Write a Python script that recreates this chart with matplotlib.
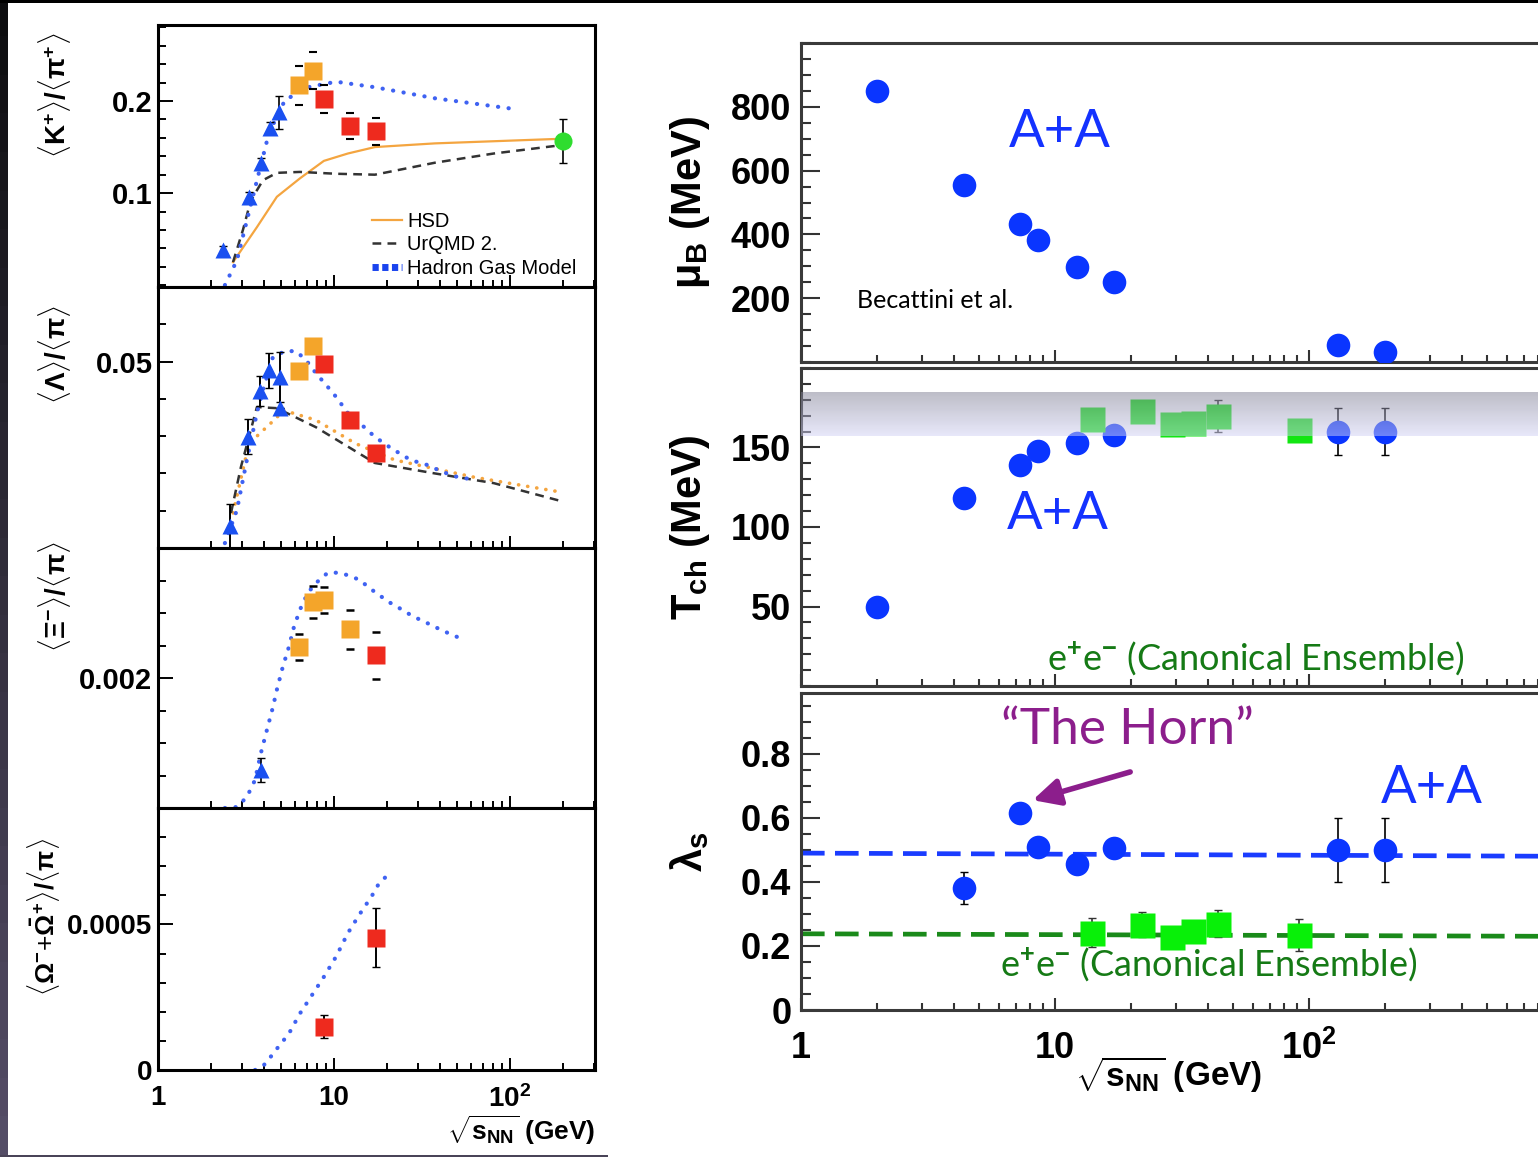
import numpy as np
import matplotlib
matplotlib.use('Agg')
import matplotlib.pyplot as plt
from matplotlib.lines import Line2D
from matplotlib.patches import Rectangle
from matplotlib.ticker import LogLocator, FixedLocator, NullFormatter, MultipleLocator, FixedFormatter

plt.rcParams['font.family'] = ['Liberation Sans', 'DejaVu Sans']
plt.rcParams['font.weight'] = 'bold'
plt.rcParams['axes.labelweight'] = 'bold'
plt.rcParams['mathtext.fontset'] = 'custom'
plt.rcParams['mathtext.rm'] = 'Liberation Sans'
plt.rcParams['mathtext.bf'] = 'Liberation Sans:bold'
plt.rcParams['mathtext.it'] = 'Liberation Sans:italic'
plt.rcParams['mathtext.sf'] = 'Liberation Sans'

# ------------------------------------------------------------------ data
# left panel 1 : <K+>/<pi+>
k_tri_E = [2.34, 3.29, 3.85, 4.33, 4.87]
k_tri_v = [0.038, 0.096, 0.133, 0.171, 0.188]
k_tri_err = [0.004, 0.005, 0.005, 0.006, 0.018]
k_org_E = [6.3, 7.6]
k_org_v = [0.217, 0.233]
k_org_err = [0.021, 0.020]
k_red_E = [8.8, 12.3, 17.3]
k_red_v = [0.202, 0.173, 0.167]
k_red_err = [0.015, 0.014, 0.015]
k_grn_E = [200.0]
k_grn_v = [0.157]
k_grn_err = [0.024]
k_hsd_E = [2.67, 3.65, 4.74, 6.41, 8.77, 12.0, 17.1, 37.5, 195]
k_hsd_v = [0.025, 0.063, 0.096, 0.116, 0.135, 0.143, 0.150, 0.154, 0.159]
k_urq_E = [2.67, 3.04, 3.37, 3.95, 4.74, 6.41, 10.3, 17.1, 37.5, 81, 195]
k_urq_v = [0.025, 0.060, 0.092, 0.114, 0.122, 0.123, 0.121, 0.120, 0.133, 0.143, 0.152]
k_hgm_E = [2.40, 2.81, 3.46, 4.27, 5.27, 7.11, 10.3, 17.1, 37.5, 100]
k_hgm_v = [0.0, 0.027, 0.096, 0.165, 0.201, 0.215, 0.221, 0.215, 0.203, 0.192]

# left panel 2 : <Lambda>/<pi>
l_tri_E = [2.57, 3.25, 3.80, 4.27, 4.95, 4.95]
l_tri_v = [0.0059, 0.0298, 0.0421, 0.0477, 0.0459, 0.0375]
l_tri_err = [0.006, 0.0047, 0.004, 0.0047, 0.0067, 0.0]
l_org_E = [6.3, 7.6]
l_org_v = [0.0475, 0.0542]
l_org_err = [0.0008, 0.0012]
l_red_E = [8.8, 12.3, 17.3]
l_red_v = [0.0493, 0.0343, 0.0255]
l_red_err = [0.0008, 0.0008, 0.0008]
l_hgm_E = [2.40, 2.81, 3.20, 3.65, 3.95, 4.50, 5.27, 6.09, 6.94, 7.90, 9.23, 10.3,
           12.0, 14.8, 17.1, 21.1, 27.3, 33.8, 41.5, 50.7, 59.4]
l_hgm_v = [0.0013, 0.0102, 0.0236, 0.0362, 0.0424, 0.0512, 0.0528, 0.0528, 0.0504, 0.0469,
           0.0432, 0.0405, 0.0362, 0.0325, 0.0298, 0.0268, 0.0236, 0.0223, 0.0204, 0.0190, 0.0185]
l_hsd_E = [2.67, 3.29, 4.74, 5.12, 7.90, 13.3, 22.2, 62.5, 195]
l_hsd_v = [0.0094, 0.028, 0.035, 0.037, 0.0343, 0.028, 0.0236, 0.019, 0.015]
l_urq_E = [2.60, 2.96, 3.65, 4.74, 7.90, 17.1, 37.5, 81, 195]
l_urq_v = [0.0094, 0.0217, 0.0378, 0.0375, 0.0324, 0.0228, 0.020, 0.0174, 0.0126]

# left panel 3 : <Xi->/<pi>
x_tri_E = [3.85]
x_tri_v = [0.000585]
x_tri_err = [0.00018]
x_org_E = [6.3, 7.6, 8.8, 12.3]
x_org_v = [0.00248, 0.00317, 0.00320, 0.00275]
x_org_err = [0.0002, 0.00025, 0.0002, 0.0003]
x_red_E = [17.3]
x_red_v = [0.00235]
x_red_err = [0.00036]
x_hgm_E = [2.40, 2.81, 3.20, 3.56, 3.85, 4.16, 4.50, 4.74, 5.12, 5.55, 5.92, 6.41, 7.11, 7.90,
           9.23, 10.8, 12.0, 14.0, 16.0, 18.0, 20.5, 23.4, 27.3, 31.2, 35.5, 40.6, 47.4, 53.5]
x_hgm_v = [0.0, 0.000015, 0.000169, 0.00043, 0.00085, 0.0012, 0.00155, 0.00182, 0.00217,
           0.00248, 0.00278, 0.00305, 0.00331, 0.00346, 0.00362, 0.00362, 0.00358, 0.00351,
           0.00338, 0.00328, 0.00317, 0.00308, 0.00297, 0.00289, 0.00282, 0.00274, 0.00266, 0.0026]

# left panel 4 : <Omega- + anti-Omega+>/<pi>
o_red_E = [8.8, 17.3]
o_red_v = [0.000149, 0.000455]
o_red_err = [0.00004, 0.0001]
o_hgm_E = [3.56, 4.06, 4.74, 5.55, 6.41, 7.50, 8.77, 10.3, 12.0, 14.0, 16.4, 18.0, 20.0]
o_hgm_v = [0.0, 0.00002, 0.000073, 0.000125, 0.000194, 0.000257, 0.00032, 0.00039, 0.00047,
           0.000535, 0.000597, 0.00064, 0.000667]

# right panels (Becattini et al.)
aa_E = [2.0, 4.4, 7.3, 8.6, 12.2, 17.1, 130, 200]
aa_muB = [849, 555, 433, 382, 298, 251, 53, 31]
aa_T = [50, 118, 139, 148, 153, 158, 160, 160]
aa_T_err = [0, 0, 0, 0, 0, 0, 15, 15]
aa_lam_E = [4.4, 7.3, 8.6, 12.2, 17.1, 130, 200]
aa_lam = [0.381, 0.615, 0.51, 0.456, 0.507, 0.50, 0.50]
aa_lam_err = [0.05, 0.012, 0, 0, 0, 0.1, 0.1]
ee_E = [14, 22, 29, 35, 44, 91.2]
ee_T = [168, 173, 164.5, 165.7, 170, 161]
ee_T_err = [0, 0, 0, 0, 10, 0]
ee_lam = [0.242, 0.267, 0.228, 0.247, 0.270, 0.233]
ee_lam_err = [0.045, 0.04, 0, 0, 0.043, 0.05]
aa_line_E = [1, 1000]
aa_line_v = [0.49, 0.48]
ee_line_v = [0.238, 0.230]
band_T = [157, 185]

# ------------------------------------------------------------------ figure
W, H = 1538, 1157
fig = plt.figure(figsize=(W / 100, H / 100), dpi=100)
fig.patch.set_facecolor('white')


def add_px(l, t, r, b):
    return fig.add_axes([l / W, 1 - b / H, (r - l) / W, (b - t) / H])


# dark frame strips of the original slide
nseg = 30
c_top = np.array([0.05, 0.05, 0.06])
c_bot = np.array([0.33, 0.30, 0.40])
for i in range(nseg):
    f = i / (nseg - 1)
    col = c_top * (1 - f) + c_bot * f
    fig.patches.append(Rectangle((0, 1 - (i + 1) / nseg), 8 / W, 1 / nseg + 0.002,
                                 transform=fig.transFigure, color=col, lw=0, zorder=-5))
fig.patches.append(Rectangle((0, 1 - 3 / H), 1, 3 / H, transform=fig.transFigure,
                             color='black', lw=0, zorder=-5))
fig.patches.append(Rectangle((0, 0), 608 / W, 2.5 / H, transform=fig.transFigure,
                             color='#4a4458', lw=0, zorder=-5))

tri_blue = '#1a50f0'
hgm_blue = '#3f62f2'
orange = '#f4a52a'
red = '#ee2a1e'
grn = '#2fdd2f'
hsd_or = '#f4a540'


def style_left(ax, ylim, major, labels, minor_step, show_x=False):
    ax.set_xscale('log')
    ax.set_xlim(1, 305)
    ax.set_ylim(*ylim)
    ax.xaxis.set_major_locator(FixedLocator([1, 10, 100]))
    ax.xaxis.set_minor_locator(LogLocator(base=10, subs=np.arange(2, 10)))
    ax.xaxis.set_minor_formatter(NullFormatter())
    if show_x:
        ax.xaxis.set_major_formatter(FixedFormatter(['1', '10', r'$\mathbf{10^{2}}$']))
    else:
        ax.xaxis.set_major_formatter(NullFormatter())
    ax.yaxis.set_major_locator(FixedLocator(major))
    ax.yaxis.set_major_formatter(FixedFormatter(labels))
    ax.yaxis.set_minor_locator(MultipleLocator(minor_step))
    ax.tick_params(axis='both', which='both', direction='in', top=False, right=False)
    ax.tick_params(axis='y', which='major', length=11, width=1.4, labelsize=21, pad=4)
    ax.tick_params(axis='y', which='minor', length=6, width=1.4)
    ax.tick_params(axis='x', which='major', length=9, width=1.4, labelsize=20, pad=11)
    ax.tick_params(axis='x', which='minor', length=5, width=1.4)
    for sp in ax.spines.values():
        sp.set_linewidth(2.2)
        sp.set_color('black')


dotted = (0, (0.05, 2.5))
dashed = (0, (3.5, 2.5))

# ---- left panel 1
ax1 = add_px(158, 25, 595, 287)
style_left(ax1, (-0.002, 0.2826), [0.1, 0.2], ['0.1', '0.2'], 0.02)
h_hsd, = ax1.plot(k_hsd_E, k_hsd_v, '-', color=hsd_or, lw=1.6, zorder=2)
h_urq, = ax1.plot(k_urq_E, k_urq_v, linestyle=dashed, color='#333333', lw=1.8, zorder=2)
ax1.plot(k_hgm_E, k_hgm_v, linestyle=dotted, color=hgm_blue, lw=3.0,
         dash_capstyle='round', zorder=2)
ax1.errorbar(k_tri_E, k_tri_v, yerr=k_tri_err, fmt='none', ecolor='black', elinewidth=1.2, capsize=3, zorder=3)
ax1.errorbar(k_org_E, k_org_v, yerr=k_org_err, fmt='none', ecolor='black', elinewidth=0, capsize=3, capthick=1.5, zorder=3)
ax1.errorbar(k_red_E, k_red_v, yerr=k_red_err, fmt='none', ecolor='black', elinewidth=0, capsize=3, capthick=1.5, zorder=3)
ax1.errorbar(k_grn_E, k_grn_v, yerr=k_grn_err, fmt='none', ecolor='black', elinewidth=1.2, capsize=3, zorder=3)
ax1.plot(k_tri_E, k_tri_v, '^', color=tri_blue, ms=12, mec='none', zorder=4)
ax1.plot(k_org_E, k_org_v, 's', color=orange, ms=13, mec='none', zorder=4)
ax1.plot(k_red_E, k_red_v, 's', color=red, ms=12.5, mec='none', zorder=4)
ax1.plot(k_grn_E, k_grn_v, 'o', color=grn, ms=13, mec='none', zorder=4)
h_hgm = Line2D([], [], color='#1a44ee', lw=5, linestyle=(0, (0.9, 0.5)))
ax1.legend([h_hsd, h_urq, h_hgm], ['HSD', 'UrQMD 2.', 'Hadron Gas Model'],
           loc='lower left', bbox_to_anchor=(0.49, 0.035), frameon=False,
           prop={'size': 14.5, 'weight': 'normal'}, handlelength=1.5, handletextpad=0.25,
           labelspacing=0.22, borderpad=0, borderaxespad=0)
ax1.set_ylabel(r'$\langle\mathbf{K}^{+}\rangle/\langle\mathrm{\pi}^{+}\rangle$', fontsize=20,
               fontweight='normal', va='center')
ax1.yaxis.set_label_coords(-0.236, 0.733)

# ---- left panel 2
ax2 = add_px(158, 287, 595, 548)
style_left(ax2, (0, 0.07), [0.05], ['0.05'], 0.01)
ax2.plot(l_hsd_E, l_hsd_v, linestyle=dotted, color=hsd_or, lw=2.6, dash_capstyle='round', zorder=2)
ax2.plot(l_urq_E, l_urq_v, linestyle=dashed, color='#333333', lw=1.8, zorder=2)
ax2.plot(l_hgm_E, l_hgm_v, linestyle=dotted, color=hgm_blue, lw=3.0, dash_capstyle='round', zorder=2)
ax2.errorbar(l_tri_E, l_tri_v, yerr=l_tri_err, fmt='none', ecolor='black', elinewidth=1.4, capsize=3, zorder=3)
ax2.errorbar(l_org_E, l_org_v, yerr=l_org_err, fmt='none', ecolor='black', elinewidth=1.2, capsize=3, zorder=3)
ax2.errorbar(l_red_E, l_red_v, yerr=l_red_err, fmt='none', ecolor='black', elinewidth=1.2, capsize=3, zorder=3)
ax2.plot(l_tri_E, l_tri_v, '^', color=tri_blue, ms=12, mec='none', zorder=4)
ax2.plot(l_org_E, l_org_v, 's', color=orange, ms=13, mec='none', zorder=4)
ax2.plot(l_red_E, l_red_v, 's', color=red, ms=12.5, mec='none', zorder=4)
ax2.set_ylabel(r'$\langle\Lambda\rangle/\langle\mathrm{\pi}\rangle$', fontsize=20, fontweight='normal', va='center')
ax2.yaxis.set_label_coords(-0.236, 0.74)

# ---- left panel 3
ax3 = add_px(158, 548, 595, 808)
style_left(ax3, (0, 0.004), [0.002], ['0.002'], 0.0005)
ax3.plot(x_hgm_E, x_hgm_v, linestyle=dotted, color=hgm_blue, lw=3.0, dash_capstyle='round', zorder=2)
ax3.errorbar(x_tri_E, x_tri_v, yerr=x_tri_err, fmt='none', ecolor='black', elinewidth=1.2, capsize=3, zorder=3)
ax3.errorbar(x_org_E, x_org_v, yerr=x_org_err, fmt='none', ecolor='black', elinewidth=0, capsize=3, capthick=1.8, zorder=3)
ax3.errorbar(x_red_E, x_red_v, yerr=x_red_err, fmt='none', ecolor='black', elinewidth=0, capsize=3, capthick=1.8, zorder=3)
ax3.plot(x_tri_E, x_tri_v, '^', color=tri_blue, ms=12, mec='none', zorder=4)
ax3.plot(x_org_E, x_org_v, 's', color=orange, ms=13, mec='none', zorder=4)
ax3.plot(x_red_E, x_red_v, 's', color=red, ms=12.5, mec='none', zorder=4)
ax3.set_ylabel(r'$\langle\Xi^{-}\rangle/\langle\mathrm{\pi}\rangle$', fontsize=20, fontweight='normal', va='center')
ax3.yaxis.set_label_coords(-0.236, 0.815)

# ---- left panel 4
ax4 = add_px(158, 808, 595, 1070)
style_left(ax4, (0, 0.0009), [0.0, 0.0005], ['0', '0.0005'], 0.0001, show_x=True)
ax4.tick_params(axis='y', which='major', labelsize=20)
ax4.plot(o_hgm_E, o_hgm_v, linestyle=dotted, color=hgm_blue, lw=3.0, dash_capstyle='round', zorder=2)
ax4.errorbar(o_red_E, o_red_v, yerr=o_red_err, fmt='none', ecolor='black', elinewidth=1.4, capsize=3, zorder=3)
ax4.plot(o_red_E, o_red_v, 's', color=red, ms=12.5, mec='none', zorder=4)
ax4.set_ylabel(r'$\langle\Omega^{-}$+$\bar{\Omega}^{+}\rangle/\langle\mathrm{\pi}\rangle$', fontsize=19,
               fontweight='normal', va='center')
ax4.yaxis.set_label_coords(-0.262, 0.584)
ax4.set_xlabel(r'$\sqrt{\mathbf{s}_{\mathbf{NN}}}$ (GeV)', fontsize=19, fontweight='bold',
               ha='right', va='center')
ax4.xaxis.set_label_coords(1.0, -0.229)

# ------------------------------------------------------------------ right panels
aa_blue = '#0a35ff'
ee_green = '#12e612'
txt_green = '#157a15'
line_green = '#1a8a1a'
purple = '#8c1e8c'


def style_right(ax, ylim, major, labels, minor_step, show_x=False):
    ax.set_xscale('log')
    ax.set_xlim(1, 1000)
    ax.set_ylim(*ylim)
    ax.xaxis.set_major_locator(FixedLocator([1, 10, 100, 1000]))
    ax.xaxis.set_minor_locator(LogLocator(base=10, subs=np.arange(2, 10)))
    ax.xaxis.set_minor_formatter(NullFormatter())
    if show_x:
        ax.xaxis.set_major_formatter(FixedFormatter(['1', '10', r'$\mathbf{10^{2}}$', '']))
    else:
        ax.xaxis.set_major_formatter(NullFormatter())
    ax.yaxis.set_major_locator(FixedLocator(major))
    ax.yaxis.set_major_formatter(FixedFormatter(labels))
    ax.yaxis.set_minor_locator(MultipleLocator(minor_step))
    ax.tick_params(axis='both', which='both', direction='in', top=False, right=False, color='#333333')
    ax.tick_params(axis='y', which='major', length=14, width=1.5, labelsize=26, pad=7)
    ax.tick_params(axis='y', which='minor', length=7, width=1.5)
    ax.tick_params(axis='x', which='major', length=9, width=1.5, labelsize=26, pad=15)
    ax.tick_params(axis='x', which='minor', length=5, width=1.5)
    for sp in ax.spines.values():
        sp.set_linewidth(2.2)
        sp.set_color('#3a3a3a')


R = 801 + 3 * 254
# ---- mu_B
r1 = add_px(801, 43, R, 362)
style_right(r1, (0, 1000), [200, 400, 600, 800], ['200', '400', '600', '800'], 50)
r1.plot(aa_E, aa_muB, 'o', color=aa_blue, ms=17, mec='none', zorder=4)
r1.set_ylabel(r'$\mathrm{\mu}_{\mathbf{B}}$ (MeV)', fontsize=30, fontweight='bold', va='center')
r1.yaxis.set_label_coords(-0.1457, 0.5)
r1.text(0.34, 0.718, 'A+A', transform=r1.transAxes, fontsize=38, color='#1432ff',
        family=['Lato', 'DejaVu Sans'], fontweight='normal', ha='center', va='center')
r1.text(0.0735, 0.194, 'Becattini et al.', transform=r1.transAxes, fontsize=18, color='black',
        family=['Lato', 'DejaVu Sans'], fontweight='normal', ha='left', va='center')

# ---- T_ch
r2 = add_px(801, 368, R, 686)
style_right(r2, (0, 200), [50, 100, 150], ['50', '100', '150'], 10)
r2.errorbar(aa_E, aa_T, yerr=aa_T_err, fmt='none', ecolor='black', elinewidth=1.2, capsize=3, zorder=3)
r2.errorbar(ee_E, ee_T, yerr=ee_T_err, fmt='none', ecolor='#333333', elinewidth=1.2, capsize=3, zorder=3)
r2.plot(aa_E, aa_T, 'o', color=aa_blue, ms=17, mec='none', zorder=4)
r2.plot(ee_E, ee_T, 's', color=ee_green, ms=18, mec='none', zorder=4)
nb = 40
cb_top = np.array([125, 125, 145]) / 255
cb_bot = np.array([209, 209, 245]) / 255
for i in range(nb):
    f = i / (nb - 1)
    y0 = band_T[0] + (band_T[1] - band_T[0]) * i / nb
    y1 = band_T[0] + (band_T[1] - band_T[0]) * (i + 1) / nb
    r2.axhspan(y0, y1, color=cb_bot * (1 - f) + cb_top * f, alpha=0.5, lw=0,
               antialiased=False, zorder=5)
r2.set_ylabel(r'$\mathbf{T}_{\mathbf{ch}}$ (MeV)', fontsize=30, fontweight='bold', va='center')
r2.yaxis.set_label_coords(-0.1457, 0.5)
r2.text(0.337, 0.538, 'A+A', transform=r2.transAxes, fontsize=38, color='#1432ff',
        family=['Lato', 'DejaVu Sans'], fontweight='normal', ha='center', va='center')
r2.text(0.596, 0.085, r'e$^{+}$e$^{-}$ (Canonical Ensemble)', transform=r2.transAxes, fontsize=26,
        color=txt_green, family=['Lato', 'DejaVu Sans'], fontweight='normal',
        ha='center', va='center')

# ---- lambda_s
r3 = add_px(801, 693, R, 1010)
style_right(r3, (0, 0.99), [0, 0.2, 0.4, 0.6, 0.8], ['0', '0.2', '0.4', '0.6', '0.8'], 0.05, show_x=True)
r3.plot(aa_line_E, aa_line_v, color='#1a3cff', lw=3.4, linestyle=(0, (5, 2.2)), zorder=2)
r3.plot(aa_line_E, ee_line_v, color=line_green, lw=3.4, linestyle=(0, (5, 2.2)), zorder=2)
r3.errorbar(aa_lam_E, aa_lam, yerr=aa_lam_err, fmt='none', ecolor='black', elinewidth=1.2, capsize=3, zorder=3)
r3.errorbar(ee_E, ee_lam, yerr=ee_lam_err, fmt='none', ecolor='#333333', elinewidth=1.2, capsize=3, zorder=3)
r3.plot(aa_lam_E, aa_lam, 'o', color=aa_blue, ms=17, mec='none', zorder=4)
r3.plot(ee_E, ee_lam, 's', color='#08f008', ms=18, mec='none', zorder=4)
r3.set_ylabel(r'$\mathrm{\lambda}_{\mathbf{s}}$', fontsize=30, va='center')
r3.yaxis.set_label_coords(-0.1457, 0.5)
r3.set_xlabel(r'$\sqrt{\mathbf{s}_{\mathbf{NN}}}$ (GeV)', fontsize=24, fontweight='bold',
              ha='center', va='center')
r3.xaxis.set_label_coords(0.482, -0.205)
r3.text(0.428, 0.883, '“The Horn”', transform=r3.transAxes, fontsize=37, color=purple,
        family=['Lato', 'DejaVu Sans'], fontweight='normal', ha='center', va='center')
r3.annotate('', xy=(0.304, 0.662), xytext=(0.432, 0.751), xycoords='axes fraction',
            textcoords='axes fraction',
            arrowprops=dict(arrowstyle='-|>,head_length=0.9,head_width=0.45', color=purple,
                            lw=4, mutation_scale=18, shrinkA=0, shrinkB=0))
r3.text(0.828, 0.70, 'A+A', transform=r3.transAxes, fontsize=38, color='#1432ff',
        family=['Lato', 'DejaVu Sans'], fontweight='normal', ha='center', va='center')
r3.text(0.535, 0.142, r'e$^{+}$e$^{-}$ (Canonical Ensemble)', transform=r3.transAxes, fontsize=26,
        color=txt_green, family=['Lato', 'DejaVu Sans'], fontweight='normal',
        ha='center', va='center')

fig.savefig('out.png', dpi=100, facecolor='white')
